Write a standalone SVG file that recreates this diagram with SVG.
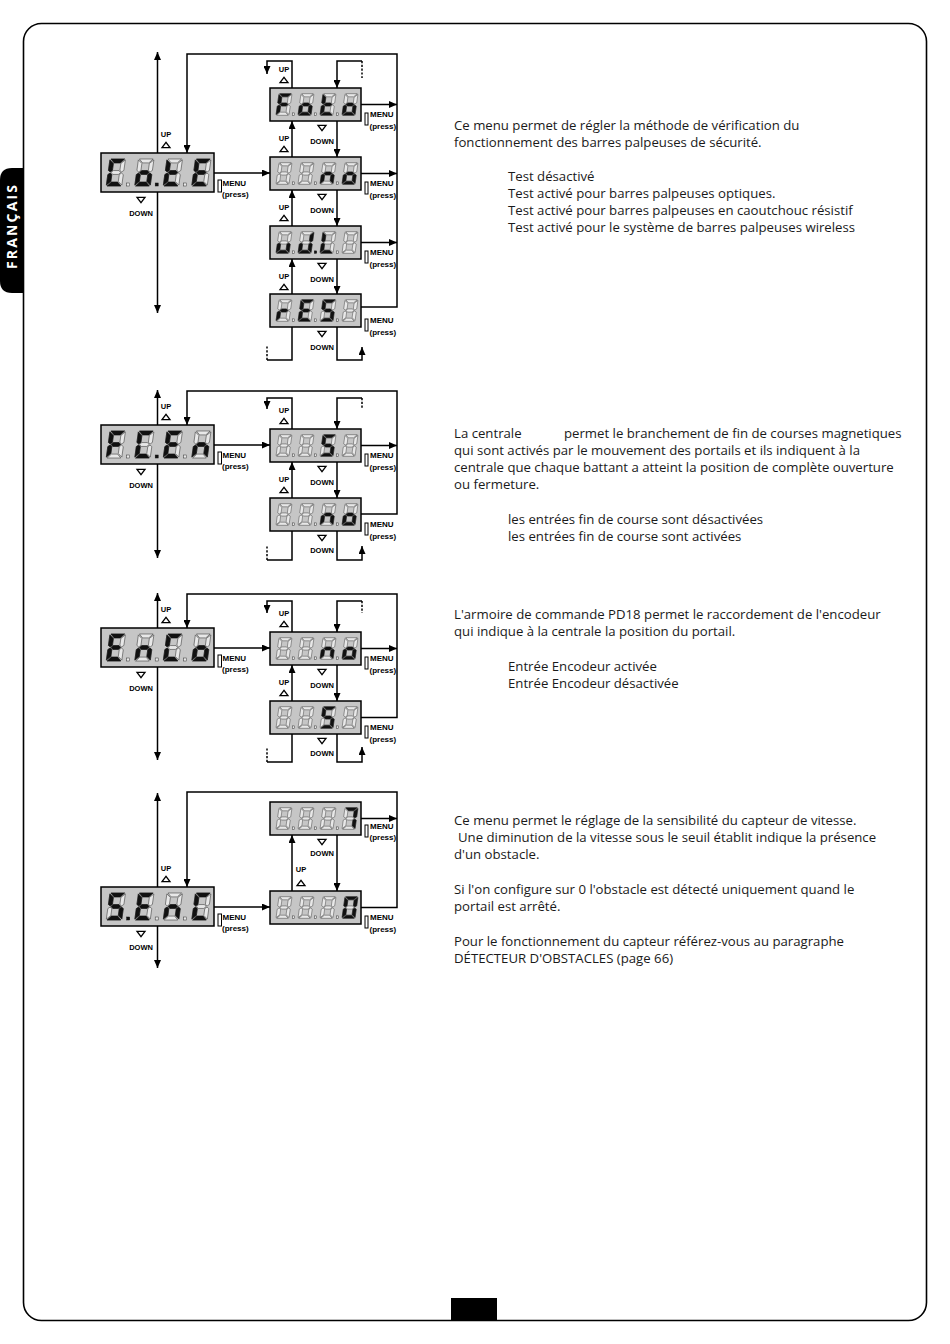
<svg xmlns="http://www.w3.org/2000/svg" width="950" height="1344" viewBox="0 0 950 1344">
<style>
.ln{fill:none;stroke:#000;stroke-width:1.5}
.ar{marker-end:url(#ah)}
.ar2{marker-end:url(#ah);marker-start:url(#ah)}
.dash{stroke-dasharray:2.2 1.6}
.disp{fill:#c6c6c6;stroke:#000;stroke-width:1.5}
.on{fill:#111;stroke:#111;stroke-width:.3}
.dot{fill:#e8e8e8;stroke:#333;stroke-width:.5}
.don{fill:#111;stroke:#111;stroke-width:.5}
.lb{font-family:"Liberation Sans",Arial,sans-serif;font-weight:bold;font-size:7.5px;text-anchor:middle;fill:#000}
.mn{font-family:"Liberation Sans",Arial,sans-serif;font-weight:bold;font-size:8px;fill:#000}
.btn{fill:#fff;stroke:#000;stroke-width:1}
.tri{fill:none;stroke:#000;stroke-width:1.3}
.t{font-family:"Open Sans","Noto Sans",sans-serif;font-size:13.2px;fill:#1a1a1a}
</style>
<defs>
<marker id="ah" viewBox="0 0 8 7" refX="8" refY="3.5" markerWidth="8" markerHeight="7" orient="auto-start-reverse" markerUnits="userSpaceOnUse"><path d="M0,0 L8,3.5 L0,7 z" fill="#000"/></marker>
<polygon id="sa" points="0.6,0 9.4,0 7,2.6 3,2.6"/>
<polygon id="sb" points="10,0.6 10,7.6 8.7,8.6 7.4,7.6 7.4,3"/>
<polygon id="sc" points="10,17.4 10,10.4 8.7,9.4 7.4,10.4 7.4,15"/>
<polygon id="sd" points="0.6,18 9.4,18 7,15.4 3,15.4"/>
<polygon id="se" points="0,17.4 0,10.4 1.3,9.4 2.6,10.4 2.6,15"/>
<polygon id="sf" points="0,0.6 0,7.6 1.3,8.6 2.6,7.6 2.6,3"/>
<polygon id="sg" points="1.9,9 3.2,7.7 6.8,7.7 8.1,9 6.8,10.3 3.2,10.3"/>
<g id="g8" fill="#e8e8e8" stroke="#333" stroke-width=".35"><use href="#sa"/><use href="#sb"/><use href="#sc"/><use href="#sd"/><use href="#se"/><use href="#sf"/><use href="#sg"/></g>
<polygon id="tu" points="-4,2.7 4,2.7 0,-2.7"/>
<polygon id="td" points="-4,-2.7 4,-2.7 0,2.7"/>
</defs>
<rect width="950" height="1344" fill="#fff"/>

<!-- page frame -->
<g id="frame">
<rect x="23.5" y="23.5" width="903" height="1297" rx="18" fill="none" stroke="#000" stroke-width="1.6"/>
<path d="M24,168 H12 Q0,168 0,180 V281 Q0,293 12,293 H24 Z" fill="#000"/>
<text transform="translate(16.5,227) rotate(-90)" text-anchor="middle" font-family="Open Sans,Noto Sans,sans-serif" font-weight="bold" font-size="14" fill="#fff" textLength="84" lengthAdjust="spacing">FRANÇAIS</text>
<rect x="451" y="1298" width="46" height="22" fill="#000"/>
</g>

<!-- connectors -->
<g id="connectors">
<!-- section 1 -->
<path class="ln ar2" d="M157.5,313 V52"/>
<path class="ln ar" d="M361,307 H397 V54 H187 V153"/>
<path class="ln ar" d="M214,173 H270"/>
<path class="ln ar" d="M361,104.5 H397"/>
<path class="ln ar" d="M361,173.5 H397"/>
<path class="ln ar" d="M361,242.5 H397"/>
<path class="ln ar" d="M292,157 V121"/>
<path class="ln ar" d="M337,121 V157"/>
<path class="ln ar" d="M292,226 V190"/>
<path class="ln ar" d="M337,190 V226"/>
<path class="ln ar" d="M292,294 V259"/>
<path class="ln ar" d="M337,259 V294"/>
<path class="ln ar" d="M292,88 V61 H267 V74"/>
<path class="ln ar" d="M362,61 H337 V88"/>
<path class="ln dash" d="M362,61 V78"/>
<path class="ln" d="M292,327 V360 H267"/>
<path class="ln dash" d="M267,360 V346"/>
<path class="ln ar" d="M337,327 V360 H362 V347"/>
<!-- section 2 -->
<path class="ln ar2" d="M157.5,558 V390"/>
<path class="ln ar" d="M361,514 H397 V391 H187 V425"/>
<path class="ln ar" d="M214,445 H270"/>
<path class="ln ar" d="M361,445.5 H397"/>
<path class="ln ar" d="M292,498 V462"/>
<path class="ln ar" d="M337,462 V498"/>
<path class="ln ar" d="M292,429 V398 H267 V409"/>
<path class="ln ar" d="M362,398 H337 V429"/>
<path class="ln dash" d="M362,398 V409"/>
<path class="ln" d="M292,531 V560 H267"/>
<path class="ln dash" d="M267,560 V546"/>
<path class="ln ar" d="M337,531 V560 H362 V546"/>
<!-- section 3 -->
<path class="ln ar2" d="M157.5,760 V593"/>
<path class="ln ar" d="M361,717.5 H397 V594 H187 V628"/>
<path class="ln ar" d="M214,648 H270"/>
<path class="ln ar" d="M361,648.5 H397"/>
<path class="ln ar" d="M292,701 V665"/>
<path class="ln ar" d="M337,665 V701"/>
<path class="ln ar" d="M292,632 V601 H267 V613"/>
<path class="ln ar" d="M362,601 H337 V632"/>
<path class="ln dash" d="M362,601 V613"/>
<path class="ln" d="M292,734 V762 H267"/>
<path class="ln dash" d="M267,762 V747"/>
<path class="ln ar" d="M337,734 V762 H362 V747"/>
<!-- section 4 -->
<path class="ln ar2" d="M157.5,968 V793"/>
<path class="ln ar" d="M361,907.5 H397 V792 H187 V887"/>
<path class="ln ar" d="M214,907 H270"/>
<path class="ln ar" d="M361,818.5 H397"/>
<path class="ln ar" d="M292,891 V835"/>
<path class="ln ar" d="M337,835 V891"/>
</g>

<!-- labels -->
<g id="labels">
<!-- s1 -->
<text class="lb" x="166" y="137">UP</text><use href="#tu" class="tri" x="166" y="145"/>
<use href="#td" class="tri" x="141" y="200"/><text class="lb" x="141" y="216">DOWN</text>
<text class="lb" x="284" y="72">UP</text><use href="#tu" class="tri" x="284" y="80"/>
<use href="#td" class="tri" x="322" y="128"/><text class="lb" x="322" y="144">DOWN</text>
<text class="lb" x="284" y="141">UP</text><use href="#tu" class="tri" x="284" y="149"/>
<use href="#td" class="tri" x="322" y="197"/><text class="lb" x="322" y="213">DOWN</text>
<text class="lb" x="284" y="210">UP</text><use href="#tu" class="tri" x="284" y="218"/>
<use href="#td" class="tri" x="322" y="266"/><text class="lb" x="322" y="282">DOWN</text>
<text class="lb" x="284" y="279">UP</text><use href="#tu" class="tri" x="284" y="287"/>
<use href="#td" class="tri" x="322" y="334"/><text class="lb" x="322" y="350">DOWN</text>
<!-- s2 -->
<text class="lb" x="166" y="409">UP</text><use href="#tu" class="tri" x="166" y="417"/>
<use href="#td" class="tri" x="141" y="472"/><text class="lb" x="141" y="488">DOWN</text>
<text class="lb" x="284" y="413">UP</text><use href="#tu" class="tri" x="284" y="421"/>
<use href="#td" class="tri" x="322" y="469"/><text class="lb" x="322" y="485">DOWN</text>
<text class="lb" x="284" y="482">UP</text><use href="#tu" class="tri" x="284" y="490"/>
<use href="#td" class="tri" x="322" y="538"/><text class="lb" x="322" y="553">DOWN</text>
<!-- s3 -->
<text class="lb" x="166" y="612">UP</text><use href="#tu" class="tri" x="166" y="620"/>
<use href="#td" class="tri" x="141" y="675"/><text class="lb" x="141" y="691">DOWN</text>
<text class="lb" x="284" y="616">UP</text><use href="#tu" class="tri" x="284" y="624"/>
<use href="#td" class="tri" x="322" y="672"/><text class="lb" x="322" y="688">DOWN</text>
<text class="lb" x="284" y="685">UP</text><use href="#tu" class="tri" x="284" y="693"/>
<use href="#td" class="tri" x="322" y="741"/><text class="lb" x="322" y="756">DOWN</text>
<!-- s4 -->
<text class="lb" x="166" y="871">UP</text><use href="#tu" class="tri" x="166" y="879"/>
<use href="#td" class="tri" x="141" y="934"/><text class="lb" x="141" y="950">DOWN</text>
<use href="#td" class="tri" x="322" y="842"/><text class="lb" x="322" y="856">DOWN</text>
<text class="lb" x="301" y="872">UP</text><use href="#tu" class="tri" x="301" y="883"/>
<!-- MENU labels left -->
<rect class="btn" x="218" y="180" width="3.5" height="12"/><text class="mn" x="222.5" y="186">MENU</text><text class="mn" x="222" y="196.5">(press)</text>
<rect class="btn" x="218" y="452" width="3.5" height="12"/><text class="mn" x="222.5" y="458">MENU</text><text class="mn" x="222" y="468.5">(press)</text>
<rect class="btn" x="218" y="655" width="3.5" height="12"/><text class="mn" x="222.5" y="661">MENU</text><text class="mn" x="222" y="671.5">(press)</text>
<rect class="btn" x="218" y="914" width="3.5" height="12"/><text class="mn" x="222.5" y="920">MENU</text><text class="mn" x="222" y="930.5">(press)</text>
<!-- MENU labels right -->
<rect class="btn" x="365" y="113" width="3" height="12"/><text class="mn" x="370" y="117">MENU</text><text class="mn" x="369.5" y="128.5">(press)</text>
<rect class="btn" x="365" y="182" width="3" height="12"/><text class="mn" x="370" y="186">MENU</text><text class="mn" x="369.5" y="197.5">(press)</text>
<rect class="btn" x="365" y="251" width="3" height="12"/><text class="mn" x="370" y="255">MENU</text><text class="mn" x="369.5" y="266.5">(press)</text>
<rect class="btn" x="365" y="319" width="3" height="12"/><text class="mn" x="370" y="323">MENU</text><text class="mn" x="369.5" y="334.5">(press)</text>
<rect class="btn" x="365" y="454" width="3" height="12"/><text class="mn" x="370" y="458">MENU</text><text class="mn" x="369.5" y="469.5">(press)</text>
<rect class="btn" x="365" y="523" width="3" height="12"/><text class="mn" x="370" y="527">MENU</text><text class="mn" x="369.5" y="538.5">(press)</text>
<rect class="btn" x="365" y="657" width="3" height="12"/><text class="mn" x="370" y="661">MENU</text><text class="mn" x="369.5" y="672.5">(press)</text>
<rect class="btn" x="365" y="726" width="3" height="12"/><text class="mn" x="370" y="730">MENU</text><text class="mn" x="369.5" y="741.5">(press)</text>
<rect class="btn" x="365" y="825" width="3" height="12"/><text class="mn" x="370" y="829">MENU</text><text class="mn" x="369.5" y="840">(press)</text>
<rect class="btn" x="365" y="916" width="3" height="12"/><text class="mn" x="370" y="920">MENU</text><text class="mn" x="369.5" y="931.5">(press)</text>
</g>

<!-- ===== Section 1 displays ===== -->
<g id="n-cote">
<rect class="disp" x="101" y="153" width="113" height="39"/>
<g transform="translate(110,159) skewX(-8) scale(1.55,1.5)"><use href="#g8"/><use href="#sa" class="on"/><use href="#sd" class="on"/><use href="#se" class="on"/><use href="#sf" class="on"/></g>
<g transform="translate(138.5,159) skewX(-8) scale(1.55,1.5)"><use href="#g8"/><use href="#sc" class="on"/><use href="#sd" class="on"/><use href="#se" class="on"/><use href="#sg" class="on"/></g>
<g transform="translate(167,159) skewX(-8) scale(1.55,1.5)"><use href="#g8"/><use href="#sd" class="on"/><use href="#se" class="on"/><use href="#sf" class="on"/><use href="#sg" class="on"/></g>
<g transform="translate(195.5,159) skewX(-8) scale(1.55,1.5)"><use href="#g8"/><use href="#sa" class="on"/><use href="#sd" class="on"/><use href="#se" class="on"/><use href="#sf" class="on"/><use href="#sg" class="on"/></g>
<rect class="dot" x="126.7" y="183" width="3" height="3"/><rect class="don" x="155.2" y="183" width="3" height="3"/><rect class="dot" x="183.7" y="183" width="3" height="3"/>
</g>
<g id="n-foto">
<rect class="disp" x="270" y="88" width="91" height="33"/>
<g transform="translate(279,93.7) skewX(-8) scale(1.3,1.2)"><use href="#g8"/><use href="#sa" class="on"/><use href="#se" class="on"/><use href="#sf" class="on"/><use href="#sg" class="on"/></g>
<g transform="translate(301,93.7) skewX(-8) scale(1.3,1.2)"><use href="#g8"/><use href="#sc" class="on"/><use href="#sd" class="on"/><use href="#se" class="on"/><use href="#sg" class="on"/></g>
<g transform="translate(323,93.7) skewX(-8) scale(1.3,1.2)"><use href="#g8"/><use href="#sd" class="on"/><use href="#se" class="on"/><use href="#sf" class="on"/><use href="#sg" class="on"/></g>
<g transform="translate(345,93.7) skewX(-8) scale(1.3,1.2)"><use href="#g8"/><use href="#sc" class="on"/><use href="#sd" class="on"/><use href="#se" class="on"/><use href="#sg" class="on"/></g>
<rect class="dot" x="292.3" y="112.9" width="2.4" height="2.4"/><rect class="dot" x="314.3" y="112.9" width="2.4" height="2.4"/><rect class="dot" x="336.3" y="112.9" width="2.4" height="2.4"/>
</g>
<g id="n-no1">
<rect class="disp" x="270" y="157" width="91" height="33"/>
<g transform="translate(279,162.7) skewX(-8) scale(1.3,1.2)"><use href="#g8"/></g>
<g transform="translate(301,162.7) skewX(-8) scale(1.3,1.2)"><use href="#g8"/></g>
<g transform="translate(323,162.7) skewX(-8) scale(1.3,1.2)"><use href="#g8"/><use href="#sc" class="on"/><use href="#se" class="on"/><use href="#sg" class="on"/></g>
<g transform="translate(345,162.7) skewX(-8) scale(1.3,1.2)"><use href="#g8"/><use href="#sc" class="on"/><use href="#sd" class="on"/><use href="#se" class="on"/><use href="#sg" class="on"/></g>
<rect class="dot" x="292.3" y="181.9" width="2.4" height="2.4"/><rect class="dot" x="314.3" y="181.9" width="2.4" height="2.4"/><rect class="dot" x="336.3" y="181.9" width="2.4" height="2.4"/>
</g>
<g id="n-ujl">
<rect class="disp" x="270" y="226" width="91" height="33"/>
<g transform="translate(279,231.7) skewX(-8) scale(1.3,1.2)"><use href="#g8"/><use href="#sc" class="on"/><use href="#sd" class="on"/><use href="#se" class="on"/></g>
<g transform="translate(301,231.7) skewX(-8) scale(1.3,1.2)"><use href="#g8"/><use href="#sb" class="on"/><use href="#sc" class="on"/><use href="#sd" class="on"/><use href="#se" class="on"/></g>
<g transform="translate(323,231.7) skewX(-8) scale(1.3,1.2)"><use href="#g8"/><use href="#sd" class="on"/><use href="#se" class="on"/><use href="#sf" class="on"/></g>
<g transform="translate(345,231.7) skewX(-8) scale(1.3,1.2)"><use href="#g8"/></g>
<rect class="dot" x="292.3" y="250.9" width="2.4" height="2.4"/><rect class="don" x="314.3" y="250.9" width="2.4" height="2.4"/><rect class="dot" x="336.3" y="250.9" width="2.4" height="2.4"/>
</g>
<g id="n-res">
<rect class="disp" x="270" y="294" width="91" height="33"/>
<g transform="translate(279,299.7) skewX(-8) scale(1.3,1.2)"><use href="#g8"/><use href="#se" class="on"/><use href="#sg" class="on"/></g>
<g transform="translate(301,299.7) skewX(-8) scale(1.3,1.2)"><use href="#g8"/><use href="#sa" class="on"/><use href="#sd" class="on"/><use href="#se" class="on"/><use href="#sf" class="on"/><use href="#sg" class="on"/></g>
<g transform="translate(323,299.7) skewX(-8) scale(1.3,1.2)"><use href="#g8"/><use href="#sa" class="on"/><use href="#sc" class="on"/><use href="#sd" class="on"/><use href="#sf" class="on"/><use href="#sg" class="on"/></g>
<g transform="translate(345,299.7) skewX(-8) scale(1.3,1.2)"><use href="#g8"/></g>
<rect class="dot" x="292.3" y="318.9" width="2.4" height="2.4"/><rect class="dot" x="314.3" y="318.9" width="2.4" height="2.4"/><rect class="dot" x="336.3" y="318.9" width="2.4" height="2.4"/>
</g>

<!-- ===== Section 2 displays ===== -->
<g id="n-fcen">
<rect class="disp" x="101" y="425" width="113" height="39"/>
<g transform="translate(110,431) skewX(-8) scale(1.55,1.5)"><use href="#g8"/><use href="#sa" class="on"/><use href="#se" class="on"/><use href="#sf" class="on"/><use href="#sg" class="on"/></g>
<g transform="translate(138.5,431) skewX(-8) scale(1.55,1.5)"><use href="#g8"/><use href="#sa" class="on"/><use href="#sd" class="on"/><use href="#se" class="on"/><use href="#sf" class="on"/></g>
<g transform="translate(167,431) skewX(-8) scale(1.55,1.5)"><use href="#g8"/><use href="#sa" class="on"/><use href="#sd" class="on"/><use href="#se" class="on"/><use href="#sf" class="on"/><use href="#sg" class="on"/></g>
<g transform="translate(195.5,431) skewX(-8) scale(1.55,1.5)"><use href="#g8"/><use href="#sc" class="on"/><use href="#se" class="on"/><use href="#sg" class="on"/></g>
<rect class="dot" x="126.7" y="455" width="3" height="3"/><rect class="don" x="155.2" y="455" width="3" height="3"/><rect class="dot" x="183.7" y="455" width="3" height="3"/>
</g>
<g id="n-si2">
<rect class="disp" x="270" y="429" width="91" height="33"/>
<g transform="translate(279,434.7) skewX(-8) scale(1.3,1.2)"><use href="#g8"/></g>
<g transform="translate(301,434.7) skewX(-8) scale(1.3,1.2)"><use href="#g8"/></g>
<g transform="translate(323,434.7) skewX(-8) scale(1.3,1.2)"><use href="#g8"/><use href="#sa" class="on"/><use href="#sc" class="on"/><use href="#sd" class="on"/><use href="#sf" class="on"/><use href="#sg" class="on"/></g>
<g transform="translate(345,434.7) skewX(-8) scale(1.3,1.2)"><use href="#g8"/></g>
<rect class="dot" x="292.3" y="453.9" width="2.4" height="2.4"/><rect class="dot" x="314.3" y="453.9" width="2.4" height="2.4"/><rect class="dot" x="336.3" y="453.9" width="2.4" height="2.4"/>
</g>
<g id="n-no2">
<rect class="disp" x="270" y="498" width="91" height="33"/>
<g transform="translate(279,503.7) skewX(-8) scale(1.3,1.2)"><use href="#g8"/></g>
<g transform="translate(301,503.7) skewX(-8) scale(1.3,1.2)"><use href="#g8"/></g>
<g transform="translate(323,503.7) skewX(-8) scale(1.3,1.2)"><use href="#g8"/><use href="#sc" class="on"/><use href="#se" class="on"/><use href="#sg" class="on"/></g>
<g transform="translate(345,503.7) skewX(-8) scale(1.3,1.2)"><use href="#g8"/><use href="#sc" class="on"/><use href="#sd" class="on"/><use href="#se" class="on"/><use href="#sg" class="on"/></g>
<rect class="dot" x="292.3" y="522.9" width="2.4" height="2.4"/><rect class="dot" x="314.3" y="522.9" width="2.4" height="2.4"/><rect class="dot" x="336.3" y="522.9" width="2.4" height="2.4"/>
</g>

<!-- ===== Section 3 displays ===== -->
<g id="n-enco">
<rect class="disp" x="101" y="628" width="113" height="39"/>
<g transform="translate(110,634) skewX(-8) scale(1.55,1.5)"><use href="#g8"/><use href="#sa" class="on"/><use href="#sd" class="on"/><use href="#se" class="on"/><use href="#sf" class="on"/><use href="#sg" class="on"/></g>
<g transform="translate(138.5,634) skewX(-8) scale(1.55,1.5)"><use href="#g8"/><use href="#sc" class="on"/><use href="#se" class="on"/><use href="#sg" class="on"/></g>
<g transform="translate(167,634) skewX(-8) scale(1.55,1.5)"><use href="#g8"/><use href="#sa" class="on"/><use href="#sd" class="on"/><use href="#se" class="on"/><use href="#sf" class="on"/></g>
<g transform="translate(195.5,634) skewX(-8) scale(1.55,1.5)"><use href="#g8"/><use href="#sc" class="on"/><use href="#sd" class="on"/><use href="#se" class="on"/><use href="#sg" class="on"/></g>
<rect class="dot" x="126.7" y="658" width="3" height="3"/><rect class="dot" x="155.2" y="658" width="3" height="3"/><rect class="dot" x="183.7" y="658" width="3" height="3"/>
</g>
<g id="n-no3">
<rect class="disp" x="270" y="632" width="91" height="33"/>
<g transform="translate(279,637.7) skewX(-8) scale(1.3,1.2)"><use href="#g8"/></g>
<g transform="translate(301,637.7) skewX(-8) scale(1.3,1.2)"><use href="#g8"/></g>
<g transform="translate(323,637.7) skewX(-8) scale(1.3,1.2)"><use href="#g8"/><use href="#sc" class="on"/><use href="#se" class="on"/><use href="#sg" class="on"/></g>
<g transform="translate(345,637.7) skewX(-8) scale(1.3,1.2)"><use href="#g8"/><use href="#sc" class="on"/><use href="#sd" class="on"/><use href="#se" class="on"/><use href="#sg" class="on"/></g>
<rect class="dot" x="292.3" y="656.9" width="2.4" height="2.4"/><rect class="dot" x="314.3" y="656.9" width="2.4" height="2.4"/><rect class="dot" x="336.3" y="656.9" width="2.4" height="2.4"/>
</g>
<g id="n-si3">
<rect class="disp" x="270" y="701" width="91" height="33"/>
<g transform="translate(279,706.7) skewX(-8) scale(1.3,1.2)"><use href="#g8"/></g>
<g transform="translate(301,706.7) skewX(-8) scale(1.3,1.2)"><use href="#g8"/></g>
<g transform="translate(323,706.7) skewX(-8) scale(1.3,1.2)"><use href="#g8"/><use href="#sa" class="on"/><use href="#sc" class="on"/><use href="#sd" class="on"/><use href="#sf" class="on"/><use href="#sg" class="on"/></g>
<g transform="translate(345,706.7) skewX(-8) scale(1.3,1.2)"><use href="#g8"/></g>
<rect class="dot" x="292.3" y="725.9" width="2.4" height="2.4"/><rect class="dot" x="314.3" y="725.9" width="2.4" height="2.4"/><rect class="dot" x="336.3" y="725.9" width="2.4" height="2.4"/>
</g>

<!-- ===== Section 4 displays ===== -->
<g id="n-senc">
<rect class="disp" x="101" y="887" width="113" height="39"/>
<g transform="translate(110,893) skewX(-8) scale(1.55,1.5)"><use href="#g8"/><use href="#sa" class="on"/><use href="#sc" class="on"/><use href="#sd" class="on"/><use href="#sf" class="on"/><use href="#sg" class="on"/></g>
<g transform="translate(138.5,893) skewX(-8) scale(1.55,1.5)"><use href="#g8"/><use href="#sa" class="on"/><use href="#sd" class="on"/><use href="#se" class="on"/><use href="#sf" class="on"/><use href="#sg" class="on"/></g>
<g transform="translate(167,893) skewX(-8) scale(1.55,1.5)"><use href="#g8"/><use href="#sc" class="on"/><use href="#se" class="on"/><use href="#sg" class="on"/></g>
<g transform="translate(195.5,893) skewX(-8) scale(1.55,1.5)"><use href="#g8"/><use href="#sa" class="on"/><use href="#sd" class="on"/><use href="#se" class="on"/><use href="#sf" class="on"/></g>
<rect class="don" x="126.7" y="917" width="3" height="3"/><rect class="dot" x="155.2" y="917" width="3" height="3"/><rect class="dot" x="183.7" y="917" width="3" height="3"/>
</g>
<g id="n-v7">
<rect class="disp" x="270" y="802" width="91" height="33"/>
<g transform="translate(279,807.7) skewX(-8) scale(1.3,1.2)"><use href="#g8"/></g>
<g transform="translate(301,807.7) skewX(-8) scale(1.3,1.2)"><use href="#g8"/></g>
<g transform="translate(323,807.7) skewX(-8) scale(1.3,1.2)"><use href="#g8"/></g>
<g transform="translate(345,807.7) skewX(-8) scale(1.3,1.2)"><use href="#g8"/><use href="#sa" class="on"/><use href="#sb" class="on"/><use href="#sc" class="on"/></g>
<rect class="dot" x="292.3" y="826.9" width="2.4" height="2.4"/><rect class="dot" x="314.3" y="826.9" width="2.4" height="2.4"/><rect class="dot" x="336.3" y="826.9" width="2.4" height="2.4"/>
</g>
<g id="n-v0">
<rect class="disp" x="270" y="891" width="91" height="33"/>
<g transform="translate(279,896.7) skewX(-8) scale(1.3,1.2)"><use href="#g8"/></g>
<g transform="translate(301,896.7) skewX(-8) scale(1.3,1.2)"><use href="#g8"/></g>
<g transform="translate(323,896.7) skewX(-8) scale(1.3,1.2)"><use href="#g8"/></g>
<g transform="translate(345,896.7) skewX(-8) scale(1.3,1.2)"><use href="#g8"/><use href="#sa" class="on"/><use href="#sb" class="on"/><use href="#sc" class="on"/><use href="#sd" class="on"/><use href="#se" class="on"/><use href="#sf" class="on"/></g>
<rect class="dot" x="292.3" y="915.9" width="2.4" height="2.4"/><rect class="dot" x="314.3" y="915.9" width="2.4" height="2.4"/><rect class="dot" x="336.3" y="915.9" width="2.4" height="2.4"/>
</g>

<!-- ===== Texts ===== -->
<g id="text1">
<text class="t" x="454" y="129.5">Ce menu permet de régler la méthode de vérification du</text>
<text class="t" x="454" y="146.5">fonctionnement des barres palpeuses de sécurité.</text>
<text class="t" x="508" y="180.5">Test désactivé</text>
<text class="t" x="508" y="197.5">Test activé pour barres palpeuses optiques.</text>
<text class="t" x="508" y="214.5">Test activé pour barres palpeuses en caoutchouc résistif</text>
<text class="t" x="508" y="231.5">Test activé pour le système de barres palpeuses wireless</text>
</g>
<g id="text2">
<text class="t" x="454" y="437.5">La centrale</text>
<text class="t" x="564" y="437.5">permet le branchement de fin de courses magnetiques</text>
<text class="t" x="454" y="454.5">qui sont activés par le mouvement des portails et ils indiquent à la</text>
<text class="t" x="454" y="471.5">centrale que chaque battant a atteint la position de complète ouverture</text>
<text class="t" x="454" y="488.5">ou fermeture.</text>
<text class="t" x="508" y="523.5">les entrées fin de course sont désactivées</text>
<text class="t" x="508" y="540.5">les entrées fin de course sont activées</text>
</g>
<g id="text3">
<text class="t" x="454" y="618.5">L'armoire de commande PD18 permet le raccordement de l'encodeur</text>
<text class="t" x="454" y="635.5">qui indique à la centrale la position du portail.</text>
<text class="t" x="508" y="670.5">Entrée Encodeur activée</text>
<text class="t" x="508" y="687.5">Entrée Encodeur désactivée</text>
</g>
<g id="text4">
<text class="t" x="454" y="824.5">Ce menu permet le réglage de la sensibilité du capteur de vitesse.</text>
<text class="t" x="458" y="841.5">Une diminution de la vitesse sous le seuil établit indique la présence</text>
<text class="t" x="454" y="858.5">d'un obstacle.</text>
<text class="t" x="454" y="893.5">Si l'on configure sur 0 l'obstacle est détecté uniquement quand le</text>
<text class="t" x="454" y="910.5">portail est arrêté.</text>
<text class="t" x="454" y="945.5">Pour le fonctionnement du capteur référez-vous au paragraphe</text>
<text class="t" x="454" y="962.5">DÉTECTEUR D'OBSTACLES (page 66)</text>
</g>
</svg>
